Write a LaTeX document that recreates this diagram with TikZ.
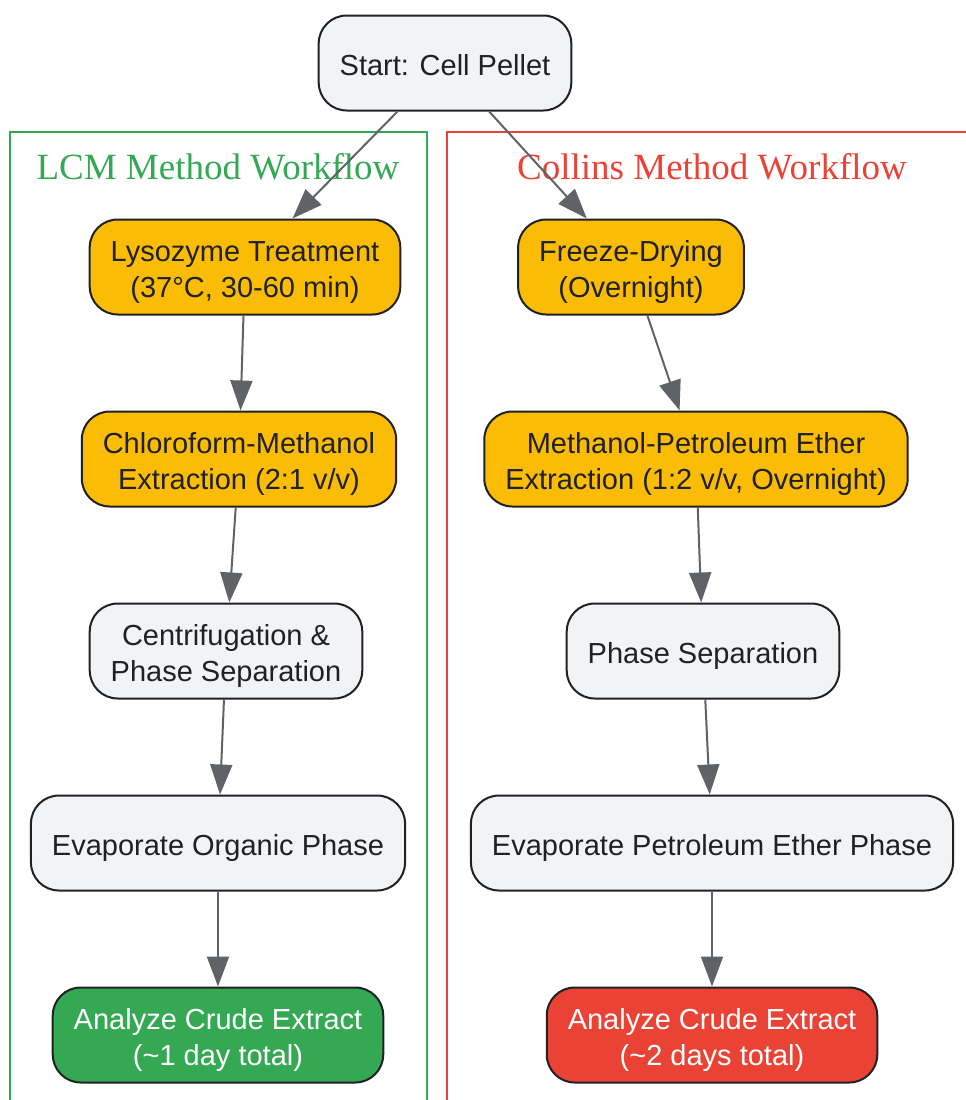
\documentclass[tikz,border=0pt]{standalone}
\usepackage{fontspec}
\setmainfont{Liberation Sans}
\newfontfamily\titlefont{Liberation Serif}
\usetikzlibrary{arrows.meta,positioning}
\definecolor{lcmgreen}{HTML}{34A853}
\definecolor{colred}{HTML}{EA4335}
\definecolor{amber}{HTML}{FBBC05}
\definecolor{paper}{HTML}{F1F3F4}
\definecolor{ink}{HTML}{202124}
\definecolor{wire}{HTML}{5F6368}

\begin{document}
\begin{tikzpicture}[x=1pt,y=-1pt,->,>={Triangle[length=30pt,width=22pt]},%
        node distance=192pt,
        every edge/.style={draw=wire,line width=2pt},
        box/.style={draw=ink,line width=2pt,fill=paper,text=ink,
          rounded corners=28pt,minimum height=95pt,inner xsep=21pt,
          align=center,font=\fontsize{29}{36}\selectfont,
          text height=30pt,text depth=6pt},
        twoline/.style={text height=66pt},
        ambox/.style={box,fill=amber},
        greenbox/.style={box,fill=lcmgreen,text=white},
        redbox/.style={box,fill=colred,text=white},
        title/.style={font=\titlefont\fontsize{37}{44}\selectfont}]

      \useasboundingbox (0,0) rectangle (966,1100);

      % clusters
      \draw[-,lcmgreen,line width=2pt] (10,1100) -- (10,132) -- (427,132) -- (427,1100);
      \draw[-,colred,line width=2pt] (447,1100) -- (447,132) -- (966,132);
      \node[title,text=lcmgreen] (lcmT) at (218,167) {LCM Method Workflow};
      \node[title,text=colred]   (colT) at (712,167) {Collins Method Workflow};

      \node[box]      (start)  at (445,63)                      {Start: Cell Pellet};

      % LCM
      \node[ambox,twoline]    (lyso)   at (245,267)             {Lysozyme Treatment\\(37°C, 30-60 min)};
      \node[ambox,twoline]    (chloro) [below of=lyso,xshift=-6pt]     {Chloroform-Methanol\\Extraction (2:1 v/v)};
      \node[box,twoline]      (centri) [below of=chloro,xshift=-13pt]  {Centrifugation \&\\Phase Separation};
      \node[box]      (evapO)  [below of=centri,xshift=-8pt]   {Evaporate Organic Phase};
      \node[greenbox,twoline] (anaG)   [below of=evapO]                {Analyze Crude Extract\\(\textasciitilde1 day total)};

      % Collins
      \node[ambox,twoline]    (freeze) at (631,267)             {Freeze-Drying\\(Overnight)};
      \node[ambox,twoline]    (methpet) [below of=freeze,xshift=65pt]  {Methanol-Petroleum Ether\\Extraction (1:2 v/v, Overnight)};
      \node[box]      (phase)  [below of=methpet,xshift=7pt]   {Phase Separation};
      \node[box]      (evapP)  [below of=phase,xshift=9pt]     {Evaporate Petroleum Ether Phase};
      \node[redbox,twoline]   (anaR)   [below of=evapP]                {Analyze Crude Extract\\(\textasciitilde2 days total)};

      \path
      (start) edge (lyso)
      edge (freeze)

      (lyso) edge (chloro)
      (chloro) edge (centri)
      (centri) edge (evapO)
      (evapO) edge (anaG)

      (freeze) edge (methpet)
      (methpet) edge (phase)
      (phase) edge (evapP)
      (evapP) edge (anaR);

    \end{tikzpicture}
\end{document}
